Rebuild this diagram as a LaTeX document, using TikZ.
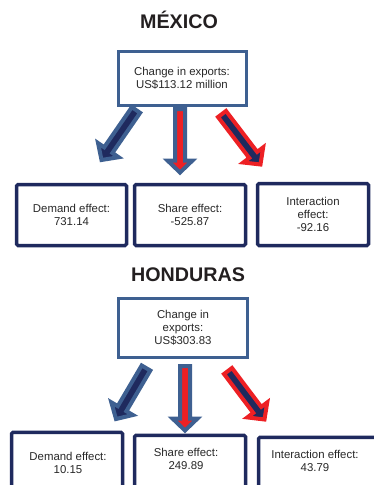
\documentclass[tikz,border=0pt]{standalone}
\usepackage{fontspec}
\setmainfont{Liberation Sans}
\usetikzlibrary{calc}
\definecolor{steel}{RGB}{62,96,145}
\definecolor{navy}{RGB}{31,42,94}
\definecolor{ared}{RGB}{237,32,36}
\definecolor{txt}{RGB}{40,40,40}
\definecolor{ttl}{RGB}{35,31,32}

% block arrow from #2 (tail) to #3 (tip), style #1
\newcommand\blockarrow[3]{%
  \path[#1] let \p1=($(#3)-(#2)$), \n1={atan2(\y1,\x1)}, \n2={veclen(\x1,\y1)} in
    [shift={(#2)}, rotate=\n1]
    (0,-5) -- (\n2-12,-5) -- (\n2-12,-12.5) -- (\n2,0) -- (\n2-12,12.5)
    -- (\n2-12,5) -- (0,5) -- cycle;
}

\begin{document}
\begin{tikzpicture}[x=1pt,y=-1pt,
  every node/.style={font=\fontsize{11.4}{13}\selectfont, text=txt, align=center, inner sep=0pt},
  title/.style={font=\fontsize{19.7}{22}\selectfont\bfseries, text=ttl},
  topbox/.style={draw=steel, line width=3pt, fill=white},
  effbox/.style={draw=navy, line width=3.5pt, rounded corners=1.5pt, fill=white},
  arrowB/.style={draw=steel, fill=navy, line width=4pt, line join=miter},
  arrowM/.style={draw=steel, fill=ared, line width=4pt, line join=miter},
  arrowR/.style={draw=ared, fill=navy, line width=4pt, line join=miter},
]
\useasboundingbox (0,0) rectangle (374,485);
\clip (0,0) rectangle (374,485);

% ---------- MEXICO ----------
\node[title] (mxt) at (179,20) {MÉXICO};
\node[topbox, minimum width=128pt, minimum height=54pt] (mxc) at (182,78)
  {Change in exports:\\US\$113.12 million};

\coordinate (mxLs) at (136,110); \coordinate (mxLt) at (101.5,160);
\coordinate (mxMs) at (180,109); \coordinate (mxMt) at (180,172.5);
\coordinate (mxRs) at (222,114); \coordinate (mxRt) at (260.5,164.5);
\blockarrow{arrowB}{mxLs}{mxLt}
\blockarrow{arrowM}{mxMs}{mxMt}
\blockarrow{arrowR}{mxRs}{mxRt}

\node[effbox, minimum width=110pt, minimum height=61pt] (mxd) at (71.5,215)
  {Demand effect:\\731.14};
\node[effbox, minimum width=111pt, minimum height=61pt] (mxs) at (190,215)
  {Share effect:\\-525.87};
\node[effbox, minimum width=111pt, minimum height=62pt] (mxi) at (313,214.5)
  {Interaction\\effect:\\-92.16};

% ---------- HONDURAS ----------
\node[title] (hnt) at (188,275) {HONDURAS};
\node[topbox, minimum width=129pt, minimum height=59pt] (hnc) at (183,328)
  {Change in\\exports:\\US\$303.83};

\coordinate (hnLs) at (146,368); \coordinate (hnLt) at (116,419);
\coordinate (hnMs) at (185,366); \coordinate (hnMt) at (185,430.5);
\coordinate (hnRs) at (228,371); \coordinate (hnRt) at (264.5,419.5);
\blockarrow{arrowB}{hnLs}{hnLt}
\blockarrow{arrowM}{hnMs}{hnMt}
\blockarrow{arrowR}{hnRs}{hnRt}

\node[effbox, anchor=north, minimum width=111pt, minimum height=80pt] (hnd) at (67,430.5) {};
\node[effbox, anchor=north, minimum width=111pt, minimum height=80pt] (hns) at (190,433.5) {};
\node[effbox, anchor=north, minimum width=125pt, minimum height=80pt] (hni) at (321,435.5) {};
\node (hndt) at (68,462.5) {Demand effect:\\10.15};
\node (hnst) at (186,459) {Share effect:\\249.89};
\node (hnit) at (315,460.5) {Interaction effect:\\43.79};
\end{tikzpicture}
\end{document}
